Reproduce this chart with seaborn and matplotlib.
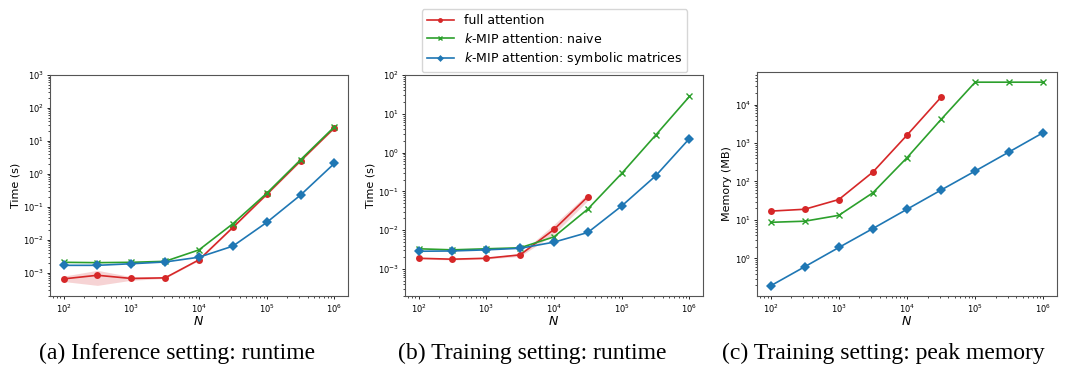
import numpy as np
import pandas as pd
import seaborn as sns
from matplotlib import pyplot as plt
from matplotlib.lines import Line2D


# sequence lengths N (10^2 ... 10^6, half-decade steps)
n_values = [100, 316, 1000, 3162, 10000, 31623, 100000, 316228, 1000000]

# (a) inference runtime, seconds
inf_full = [6.6e-4, 8.5e-4, 6.8e-4, 7.1e-4, 2.5e-3, 0.024, 0.24, 2.5, 25]
inf_full_lo = [5.5e-4, 4.2e-4, 6.0e-4, 6.8e-4, 2.4e-3, 0.023, 0.23, 2.4, 24]
inf_full_hi = [8.0e-4, 1.2e-3, 7.7e-4, 7.4e-4, 2.6e-3, 0.025, 0.25, 2.6, 26]
inf_naive = [2.1e-3, 2.05e-3, 2.1e-3, 2.25e-3, 5.0e-3, 0.031, 0.26, 2.7, 27]
inf_symbolic = [1.7e-3, 1.7e-3, 1.9e-3, 2.15e-3, 3.0e-3, 6.5e-3, 0.034, 0.23, 2.1]

# (b) training runtime, seconds (full attention stops at 10^4.5)
train_full = [1.88e-3, 1.78e-3, 1.88e-3, 2.3e-3, 0.0104, 0.073]
train_full_lo = [1.8e-3, 1.7e-3, 1.8e-3, 2.1e-3, 0.0079, 0.058]
train_full_hi = [1.95e-3, 1.85e-3, 1.95e-3, 2.5e-3, 0.014, 0.088]
train_naive = [3.3e-3, 3.1e-3, 3.3e-3, 3.5e-3, 6.7e-3, 0.035, 0.29, 2.8, 28]
train_symbolic = [2.85e-3, 2.9e-3, 3.1e-3, 3.4e-3, 4.9e-3, 8.7e-3, 0.042, 0.25, 2.3]

# (c) training peak memory, MB
mem_full = [17, 19, 34, 176, 1600, 15500]
mem_naive = [8.7, 9.3, 13.2, 51, 415, 4100, 38000, 38000, 38000]
mem_symbolic = [0.195, 0.61, 1.93, 6.0, 19, 60, 187, 590, 1870]

labels = ["full attention", "$k$-MIP attention: naive", "$k$-MIP attention: symbolic matrices"]
colors = ["#d62728", "#2ca02c", "#1f77b4"]
markers = ["o", "x", "D"]
marker_sizes = [5.0, 4.5, 5.0]

captions = ["(a) Inference setting: runtime",
            "(b) Training setting: runtime",
            "(c) Training setting: peak memory"]


fig = plt.figure(figsize=(10.67, 3.74), dpi=100)
ax_a = fig.add_axes([50 / 1067, 78 / 374, 298 / 1067, 221 / 374])
ax_b = fig.add_axes([405 / 1067, 78 / 374, 298 / 1067, 221 / 374])
ax_c = fig.add_axes([757 / 1067, 78 / 374, 300 / 1067, 224 / 374])


def draw_panel(ax, series, band=None):
    for (vals, label, color, marker, ms) in zip(series, labels, colors, markers, marker_sizes):
        df = pd.DataFrame({"N": n_values[:len(vals)], "value": vals})
        sns.lineplot(data=df, x="N", y="value", ax=ax, color=color, marker=marker,
                     markersize=ms, markeredgewidth=1.0 if marker == "x" else 0,
                     markeredgecolor=color, linewidth=1.2, legend=False)
    if band is not None:
        lo, hi = band
        ax.fill_between(n_values[:len(lo)], lo, hi, color=colors[0], alpha=0.2, linewidth=0)
    ax.set_xscale("log")
    ax.set_yscale("log")
    ax.set_xlabel("$N$", fontsize=9, labelpad=0)
    ax.tick_params(which="major", labelsize=6, length=2.5, width=0.6, pad=2)
    ax.tick_params(which="minor", length=1.5, width=0.5)
    for s in ax.spines.values():
        s.set_linewidth(0.8)
        s.set_color("#555555")


draw_panel(ax_a, [inf_full, inf_naive, inf_symbolic], band=(inf_full_lo, inf_full_hi))
ax_a.set_ylim(2e-4, 1e3)
ax_a.set_ylabel("Time (s)", fontsize=8, labelpad=2)

draw_panel(ax_b, [train_full, train_naive, train_symbolic], band=(train_full_lo, train_full_hi))
ax_b.set_ylim(2e-4, 1e2)
ax_b.set_ylabel("Time (s)", fontsize=8, labelpad=2)

draw_panel(ax_c, [mem_full, mem_naive, mem_symbolic])
ax_c.set_ylabel("Memory (MB)", fontsize=8, labelpad=2)


# shared legend on top (separate handles so the plotted markers keep their size)
handles = [Line2D([], [], color=c, marker=m, markersize=3.5, linewidth=1.2,
                  markeredgewidth=1.0 if m == "x" else 0)
           for c, m in zip(colors, markers)]
fig.legend(handles, labels, loc="upper center", bbox_to_anchor=(554.5 / 1067, 1 - 3 / 374),
           fontsize=9, frameon=True, edgecolor="#cccccc", borderpad=0.4,
           handlelength=2.2, labelspacing=0.35)

# captions under each panel
for xc, text in zip([177.5, 532, 883], captions):
    fig.text(xc / 1067, 1 - 353 / 374, text, ha="center", va="center",
             family="Liberation Serif", fontsize=17)

plt.savefig("out.png", dpi=100)
